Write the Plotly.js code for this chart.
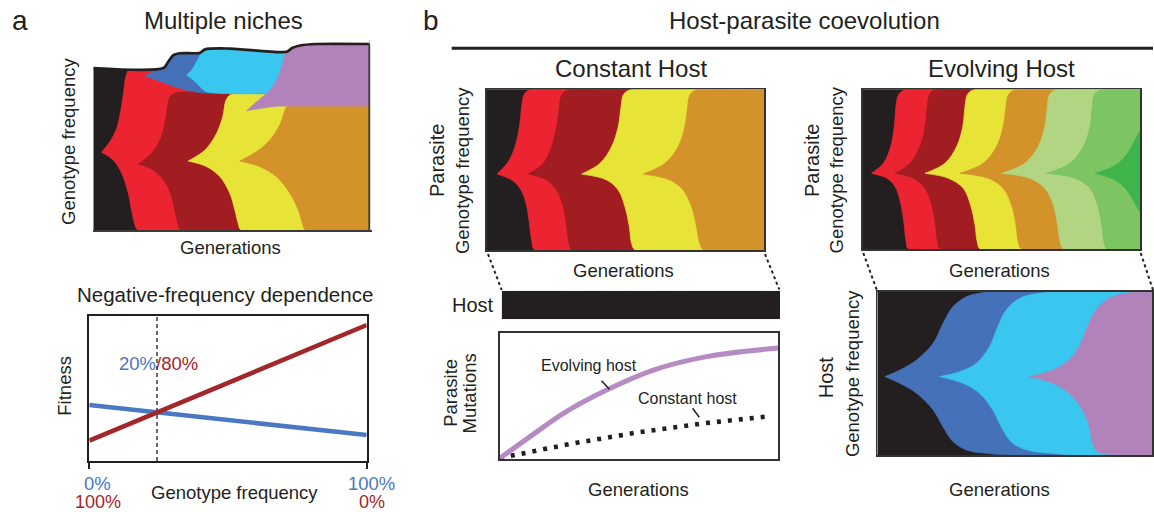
<!DOCTYPE html>
<html><head><meta charset="utf-8">
<script src="https://cdn.plot.ly/plotly-3.0.1.min.js"></script>
<style>html,body{margin:0;padding:0;background:#fff;}#chart{width:1154px;height:512px;}</style>
</head><body><div id="chart"></div>
<script>
// ================= DATA (generations 0-100, genotype frequency 0-1) =================
// --- Panel a, "Multiple niches" (frequency 1 = original niche full; >1 = extra niche) ---
const nicheOutline   = [[0,1.0],[25.4,1.0],[27.1,1.037],[29.0,1.08],[31.4,1.091],[38.7,1.094],[40.5,1.115],[49.5,1.12],[70.1,1.10],[72.0,1.123],[74.9,1.139],[80.9,1.148],[100,1.148]];
const nicheRedUp     = [[3.0,0.48],[6.0,0.545],[8.5,0.628],[10.0,0.741],[11.1,0.864],[11.8,0.947],[13.0,0.99],[15.0,1.0],[100,1.0]];
const nicheRedLo     = [[3.0,0.48],[7.2,0.432],[10.3,0.35],[12.7,0.226],[14.1,0.103],[15.1,0.031],[16.2,0],[100,0]];
const nicheDarkRedUp = [[16.3,0.407],[21.1,0.473],[24.2,0.556],[26.0,0.658],[26.9,0.761],[27.8,0.823],[29.6,0.844],[32,0.85],[100,0.85]];
const nicheDarkRedLo = [[16.3,0.407],[21.7,0.37],[26.0,0.298],[28.4,0.206],[29.8,0.103],[30.8,0.031],[31.8,0],[100,0]];
const nicheYellowUp  = [[34.4,0.426],[40.5,0.494],[44.7,0.597],[46.9,0.7],[48.1,0.802],[49.5,0.833],[51.9,0.846],[55,0.85],[100,0.85]];
const nicheYellowLo  = [[34.4,0.426],[41.1,0.391],[45.9,0.329],[49.5,0.226],[51.3,0.123],[52.5,0.041],[53.6,0],[100,0]];
const nicheOrangeUp  = [[53.1,0.426],[59.2,0.484],[64.0,0.556],[67.6,0.648],[69.1,0.72],[70.0,0.757],[71.9,0.768],[75,0.772],[100,0.772]];
const nicheOrangeLo  = [[53.1,0.426],[60.4,0.391],[66.4,0.329],[71.3,0.226],[74.3,0.123],[75.8,0.041],[76.9,0],[100,0]];
const nicheBlueUp    = [[18.7,0.951],[21.7,0.977],[24.5,0.997],[25.8,1.03],[27,1.08],[28.5,1.14],[30,1.17],[100,1.17]];
const nicheBlueLo    = [[18.7,0.951],[22.9,0.926],[27.8,0.895],[32.6,0.869],[36,0.855],[38.7,0.848],[100,0.848]];
const nicheCyanUp    = [[33.8,0.957],[35,0.975],[36.2,1.0],[37.5,1.04],[38.7,1.08],[40,1.13],[41.5,1.17],[100,1.17]];
const nicheCyanLo    = [[33.8,0.957],[36.2,0.926],[38.7,0.885],[40.5,0.858],[42.5,0.848],[100,0.848]];
const nichePurpleUp  = [[55.6,0.736],[59.2,0.792],[64.0,0.864],[67.0,0.946],[68.8,1.04],[70.1,1.12],[71.5,1.16],[73,1.17],[100,1.17]];
const nichePurpleLo  = [[55.6,0.736],[60.4,0.751],[66.4,0.764],[71.3,0.765],[100,0.765]];

// --- Panel a, "Negative-frequency dependence" ---
const freqPct     = [0, 100];
const fitnessBlue = [0.385, 0.179];
const fitnessRed  = [0.14, 0.936];
const crossFreq   = 24.4;

// --- Founder genotype (fills whole panel) ---
const founderUp = [[0,1],[100,1]];
const founderLo = [[0,0],[100,0]];

// --- Panel b, parasite with constant host ---
const constRedUp     = [[3.8,0.473],[7.8,0.55],[10.2,0.643],[11.8,0.768],[12.6,0.892],[13.4,0.965],[15.0,0.992],[17.4,1],[100,1]];
const constRedLo     = [[3.8,0.473],[9.0,0.436],[12.0,0.384],[14.2,0.29],[15.4,0.166],[16.2,0.062],[17.4,0],[100,0]];
const constDarkRedUp = [[15.0,0.473],[20.4,0.539],[23.4,0.643],[25.2,0.768],[26.2,0.892],[27.0,0.965],[28.8,0.992],[31.2,1],[100,1]];
const constDarkRedLo = [[15.0,0.473],[21.6,0.436],[25.2,0.373],[27.6,0.27],[28.8,0.145],[29.7,0.041],[30.8,0],[100,0]];
const constYellowUp  = [[34.2,0.473],[40.8,0.539],[45.0,0.643],[47.4,0.768],[48.4,0.892],[49.2,0.965],[51.0,0.992],[54.0,1],[100,1]];
const constYellowLo  = [[34.2,0.473],[43.2,0.436],[47.4,0.373],[49.8,0.27],[51.4,0.145],[52.2,0.041],[53.6,0],[100,0]];
const constOrangeUp  = [[56.4,0.473],[64.2,0.539],[69.0,0.643],[71.4,0.768],[72.4,0.892],[73.2,0.965],[75.0,0.992],[78.0,1],[100,1]];
const constOrangeLo  = [[56.4,0.473],[66.0,0.436],[70.8,0.373],[73.8,0.27],[75.6,0.145],[76.8,0.041],[78.2,0],[100,0]];

// --- Panel b, parasite with evolving host ---
const evoRedUp        = [[3.2,0.475],[7.5,0.538],[10.1,0.642],[11.4,0.767],[12.0,0.892],[12.9,0.965],[14.7,0.992],[17.1,1],[100,1]];
const evoRedLo        = [[3.2,0.475],[8.7,0.444],[11.7,0.392],[13.7,0.288],[14.9,0.163],[15.6,0.058],[16.7,0],[100,0]];
const evoDarkRedUp    = [[11.7,0.475],[17.1,0.538],[20.7,0.642],[22.5,0.767],[23.3,0.892],[24.0,0.965],[25.5,0.992],[27.9,1],[100,1]];
const evoDarkRedLo    = [[11.7,0.475],[18.3,0.444],[22.5,0.381],[24.9,0.277],[26.3,0.152],[27.0,0.048],[28.1,0],[100,0]];
const evoYellowUp     = [[22.5,0.475],[29.7,0.538],[33.9,0.642],[36.1,0.767],[36.9,0.892],[37.7,0.965],[39.3,0.992],[41.7,1],[100,1]];
const evoYellowLo     = [[22.5,0.475],[30.9,0.444],[36.3,0.381],[38.9,0.277],[40.5,0.152],[41.3,0.048],[42.5,0],[100,0]];
const evoOrangeUp     = [[35.1,0.475],[43.5,0.538],[48.3,0.642],[50.7,0.767],[51.7,0.892],[52.5,0.965],[54.3,0.992],[56.7,1],[100,1]];
const evoOrangeLo     = [[35.1,0.475],[45.3,0.444],[50.7,0.381],[53.7,0.277],[55.3,0.152],[56.1,0.048],[57.5,0],[100,0]];
const evoLightGreenUp = [[50.1,0.475],[58.5,0.538],[63.3,0.642],[65.7,0.767],[66.6,0.892],[67.3,0.965],[69.0,0.992],[71.2,1],[100,1]];
const evoLightGreenLo = [[50.1,0.475],[60.3,0.444],[65.7,0.381],[68.8,0.277],[70.3,0.152],[71.2,0.048],[72.6,0],[100,0]];
const evoMidGreenUp   = [[66.3,0.475],[74.8,0.538],[79.6,0.642],[82.0,0.767],[82.8,0.892],[83.5,0.965],[85.2,0.992],[87.4,1],[100,1]];
const evoMidGreenLo   = [[66.3,0.475],[76.6,0.444],[82.0,0.381],[84.7,0.277],[86.2,0.152],[87.0,0.048],[88.2,0],[100,0]];
const evoDarkGreenUp  = [[83.8,0.475],[90.4,0.517],[94.6,0.579],[97.6,0.662],[100,0.74]];
const evoDarkGreenLo  = [[83.8,0.475],[91.0,0.433],[95.2,0.371],[98.2,0.288],[100,0.23]];

// --- Panel b, host genotypes ---
const hostBarGen  = [0, 100];
const hostBarFreq = [1, 1];
const hostBlueUp   = [[2.8,0.48],[8.2,0.52],[14.3,0.582],[20.3,0.684],[23.9,0.806],[27.5,0.908],[32.4,0.969],[38.4,0.994],[45,1],[100,1]];
const hostBlueLo   = [[2.8,0.48],[8.2,0.439],[14.3,0.378],[20.3,0.276],[23.9,0.173],[27.5,0.082],[32.4,0.031],[39.6,0.01],[49.3,0],[100,0]];
const hostCyanUp   = [[22.7,0.48],[30.0,0.51],[36.0,0.561],[40.8,0.663],[43.8,0.786],[46.9,0.888],[51.7,0.959],[58.9,0.99],[66.2,0.998],[100,1]];
const hostCyanLo   = [[22.7,0.48],[31.2,0.439],[37.2,0.378],[42.0,0.276],[45.7,0.153],[49.3,0.071],[55.3,0.027],[63.8,0.01],[72,0],[100,0]];
const hostPurpleUp = [[55.3,0.48],[63.8,0.52],[69.8,0.582],[74.0,0.684],[76.4,0.786],[79.5,0.888],[84.3,0.959],[90.3,0.99],[97.6,0.998],[100,1]];
const hostPurpleLo = [[55.3,0.48],[63.8,0.439],[69.8,0.378],[74.6,0.276],[77.1,0.173],[78.3,0.071],[80.1,0.02],[83.1,0.006],[90,0],[100,0]];

// --- Panel b, parasite mutations over generations ---
const mutGenEvolving  = [0, 10.8, 22.8, 38.3, 55.1, 74.3, 100];
const mutEvolving     = [0.01, 0.179, 0.363, 0.547, 0.705, 0.811, 0.879];
const mutGenConstant  = [0, 25.1, 49.1, 73.1, 97.6];
const mutConstant     = [0.01, 0.121, 0.211, 0.284, 0.342];

// ================= STYLE =================
const W = 1154, H = 512;
const FONT = '"Liberation Sans", Arial, Helvetica, sans-serif';
const INK = '#231f20';
const C = {
  black:'#231f20', red:'#ec2431', darkred:'#a11d21', yellow:'#e7e337', orange:'#d4922a',
  blue:'#4471b7', cyan:'#39c6ef', purple:'#b283ba',
  lgreen:'#b1d583', mgreen:'#7dc462', dgreen:'#3fb44a',
  lineBlue:'#4a78c2', lineRed:'#a3262a', lineLav:'#b68bc3'
};

const traces = [];
function ids(n){ return n===1 ? ['x','y'] : ['x'+n,'y'+n]; }
function xs(a){ return a.map(p=>p[0]); }
function ys(a){ return a.map(p=>p[1]); }
function addBand(n, color, lo, up, lw){
  const [xa, ya] = ids(n);
  const w = (lw===undefined) ? 0.8 : lw;
  traces.push({type:'scatter', mode:'lines', x:xs(lo), y:ys(lo), xaxis:xa, yaxis:ya,
    line:{color:color, width:w, shape:'spline', smoothing:1}, hoverinfo:'skip', showlegend:false});
  traces.push({type:'scatter', mode:'lines', x:xs(up), y:ys(up), xaxis:xa, yaxis:ya, fill:'tonexty', fillcolor:color,
    line:{color:color, width:w, shape:'spline', smoothing:1}, hoverinfo:'skip', showlegend:false});
}
function addLine(n, x, y, line){
  const [xa, ya] = ids(n);
  traces.push({type:'scatter', mode:'lines', x:x, y:y, xaxis:xa, yaxis:ya, line:line, hoverinfo:'skip', showlegend:false});
}

// ---- subplot 1: multiple niches ----
traces.push({type:'scatter', mode:'lines', x:xs(nicheOutline), y:ys(nicheOutline), xaxis:'x', yaxis:'y', fill:'tozeroy', fillcolor:C.black,
  line:{width:0, shape:'spline', smoothing:0.8}, hoverinfo:'skip', showlegend:false});
addBand(1, C.red, nicheRedLo, nicheRedUp);
addBand(1, C.darkred, nicheDarkRedLo, nicheDarkRedUp);
addBand(1, C.yellow, nicheYellowLo, nicheYellowUp);
addBand(1, C.orange, nicheOrangeLo, nicheOrangeUp);
addBand(1, C.blue, nicheBlueLo, nicheBlueUp);
addBand(1, C.cyan, nicheCyanLo, nicheCyanUp);
addBand(1, C.purple, nichePurpleLo, nichePurpleUp);
// white mask above the outline
traces.push({type:'scatter', mode:'lines', x:xs(nicheOutline), y:ys(nicheOutline), xaxis:'x', yaxis:'y',
  line:{width:0, shape:'spline', smoothing:0.8}, hoverinfo:'skip', showlegend:false});
traces.push({type:'scatter', mode:'lines', x:[0,100], y:[1.25,1.25], xaxis:'x', yaxis:'y', fill:'tonexty', fillcolor:'#ffffff',
  line:{width:0}, hoverinfo:'skip', showlegend:false});
addLine(1, xs(nicheOutline), ys(nicheOutline), {color:INK, width:2.7, shape:'spline', smoothing:0.8});
const lastOut = nicheOutline[nicheOutline.length-1];
addLine(1, [lastOut[0], lastOut[0]], [lastOut[1], 0], {color:'#3a3a3a', width:1.8});

// ---- subplot 2: negative frequency dependence ----
addLine(2, [crossFreq, crossFreq], [0, 1], {color:'#3a3a3a', width:1.5, dash:'4px,3px'});
addLine(2, freqPct, fitnessBlue, {color:C.lineBlue, width:4.6});
addLine(2, freqPct, fitnessRed, {color:C.lineRed, width:4.6});

// ---- subplot 3: constant host parasite ----
addBand(3, C.black, founderLo, founderUp);
addBand(3, C.red, constRedLo, constRedUp);
addBand(3, C.darkred, constDarkRedLo, constDarkRedUp);
addBand(3, C.yellow, constYellowLo, constYellowUp);
addBand(3, C.orange, constOrangeLo, constOrangeUp);

// ---- subplot 4: evolving host parasite ----
addBand(4, C.black, founderLo, founderUp);
addBand(4, C.red, evoRedLo, evoRedUp);
addBand(4, C.darkred, evoDarkRedLo, evoDarkRedUp);
addBand(4, C.yellow, evoYellowLo, evoYellowUp);
addBand(4, C.orange, evoOrangeLo, evoOrangeUp);
addBand(4, C.lgreen, evoLightGreenLo, evoLightGreenUp);
addBand(4, C.mgreen, evoMidGreenLo, evoMidGreenUp);
addBand(4, C.dgreen, evoDarkGreenLo, evoDarkGreenUp);

// ---- subplot 5: constant host bar ----
traces.push({type:'scatter', mode:'lines', x:hostBarGen, y:hostBarFreq, xaxis:'x5', yaxis:'y5', fill:'tozeroy', fillcolor:C.black,
  line:{color:C.black, width:0}, hoverinfo:'skip', showlegend:false});

// ---- subplot 6: parasite mutations ----
addLine(6, mutGenConstant, mutConstant, {color:INK, width:4.6, dash:'4px,7px'});
addLine(6, mutGenEvolving, mutEvolving, {color:C.lineLav, width:5, shape:'spline', smoothing:1});

// ---- subplot 7: evolving host ----
addBand(7, C.black, founderLo, founderUp);
addBand(7, C.blue, hostBlueLo, hostBlueUp);
addBand(7, C.cyan, hostCyanLo, hostCyanUp);
addBand(7, C.purple, hostPurpleLo, hostPurpleUp);

// ================= LAYOUT =================
const layout = {width:W, height:H, margin:{l:0,r:0,t:0,b:0}, paper_bgcolor:'#ffffff', plot_bgcolor:'rgba(0,0,0,0)',
  showlegend:false, hovermode:false};
function axPair(n, px0, px1, py0, py1, xr, yr, extraX, extraY){
  const xk = n===1 ? 'xaxis' : 'xaxis'+n, yk = n===1 ? 'yaxis' : 'yaxis'+n;
  const [xa, ya] = ids(n);
  const base = {showgrid:false, zeroline:false, showticklabels:false, ticks:'', fixedrange:true, showline:false};
  layout[xk] = Object.assign({}, base, {domain:[px0/W, px1/W], range:xr, anchor:ya}, extraX||{});
  layout[yk] = Object.assign({}, base, {domain:[1-py1/H, 1-py0/H], range:yr, anchor:xa}, extraY||{});
}
const frame = {showline:true, mirror:true, linecolor:'#333333', linewidth:1.8};

axPair(1, 93.3, 371.5, 35.6, 230, [0,100.8], [0,1.2], {showline:true, linecolor:'#3a3a3a', linewidth:1.8});
axPair(2, 89.3, 366.7, 315.7, 461, [0,100], [0,1],
  {showline:true, mirror:true, linecolor:INK, linewidth:2, ticks:'outside', tickvals:[0,100], ticklen:6, tickwidth:2, tickcolor:INK},
  {showline:true, mirror:true, linecolor:INK, linewidth:2});
axPair(3, 486.7, 764.3, 89.3, 250, [0,100], [0,1], frame, frame);
axPair(4, 862.7, 1140, 89.3, 249.3, [0,100], [0,1], frame, frame);
axPair(5, 501.7, 780, 290.7, 319.3, [0,100], [0,1]);
axPair(6, 500, 778.3, 332.7, 459.3, [0,100], [0,1],
  {showline:true, mirror:true, linecolor:'#333333', linewidth:2}, {showline:true, mirror:true, linecolor:'#333333', linewidth:2});
axPair(7, 877.3, 1152.4, 291.7, 455, [0,100], [0,1], frame, frame);

// ---- text ----
function ann(text, px, py, size, extra){
  return Object.assign({xref:'paper', yref:'paper', x:px/W, y:1-py/H, xanchor:'center', yanchor:'middle', showarrow:false,
    text:text, font:{family:FONT, size:size, color:INK}}, extra||{});
}
const rot = {textangle:-90};
layout.annotations = [
  ann('a', 19.5, 20, 28), ann('b', 430.5, 20, 28),
  ann('Multiple niches', 223, 20, 24),
  ann('Genotype frequency', 67.7, 141.2, 18.5, rot),
  ann('Generations', 230.8, 247.6, 18.5),
  ann('Negative-frequency dependence', 225, 294, 20.5),
  ann('Fitness', 63.7, 386, 18.5, rot),
  ann('<span style="color:'+C.lineBlue+'">20%</span><span style="color:'+C.lineRed+'">/80%</span>', 158.3, 363.5, 18.5),
  ann('0%', 97.5, 483, 18.5, {font:{family:FONT, size:18.5, color:C.lineBlue}}),
  ann('100%', 97.5, 501.5, 18, {borderpad:0, font:{family:FONT, size:18, color:C.lineRed}}),
  ann('100%', 371.7, 483, 18.5, {font:{family:FONT, size:18.5, color:C.lineBlue}}),
  ann('0%', 371.7, 501.5, 18, {borderpad:0, font:{family:FONT, size:18, color:C.lineRed}}),
  ann('Genotype frequency', 234, 492.9, 18.5),
  ann('Host-parasite coevolution', 804, 20, 24),
  ann('Constant Host', 630.8, 68.4, 24),
  ann('Evolving Host', 1001.7, 68.4, 24),
  ann('Parasite', 436.3, 160.7, 20, rot),
  ann('Genotype frequency', 461.8, 170.3, 18.5, rot),
  ann('Generations', 623.3, 270.3, 18.5),
  ann('Parasite', 811.3, 160.7, 20, rot),
  ann('Genotype frequency', 836.2, 170.3, 18.5, rot),
  ann('Generations', 999, 270.3, 18.5),
  ann('Host', 496, 305.4, 20, {xanchor:'right'}),
  ann('Parasite', 450.5, 393.3, 18.5, rot),
  ann('Mutations', 468.5, 394, 18.5, rot),
  ann('Evolving host', 589, 365.4, 16),
  ann('Constant host', 687.5, 398.7, 16),
  ann('Generations', 638.3, 489.6, 18.5),
  ann('Host', 826.3, 377, 20, rot),
  ann('Genotype frequency', 851.8, 373.3, 18.5, rot),
  ann('Generations', 999, 489.6, 18.5)
];

// ---- decorative shapes ----
function pline(x0,y0,x1,y1,line){ return {type:'line', xref:'paper', yref:'paper', x0:x0/W, y0:1-y0/H, x1:x1/W, y1:1-y1/H, line:line}; }
const dotted = {color:INK, width:2, dash:'dot'};
layout.shapes = [
  pline(451.7, 48.3, 1153, 48.3, {color:INK, width:3}),
  pline(488, 254, 501.7, 290, dotted),
  pline(765, 254, 779.3, 289.5, dotted),
  pline(863.3, 253, 877, 290.5, dotted),
  pline(1140.7, 253, 1153, 290, dotted),
  {type:'line', xref:'x6', yref:'y6', x0:36.5, y0:0.621, x1:39.3, y1:0.553, line:{color:INK, width:1.5}},
  {type:'line', xref:'x6', yref:'y6', x0:69.2, y0:0.403, x1:71.6, y1:0.332, line:{color:INK, width:1.5}}
];

Plotly.newPlot('chart', traces, layout, {displayModeBar:false, staticPlot:true});
</script>
</body></html>
